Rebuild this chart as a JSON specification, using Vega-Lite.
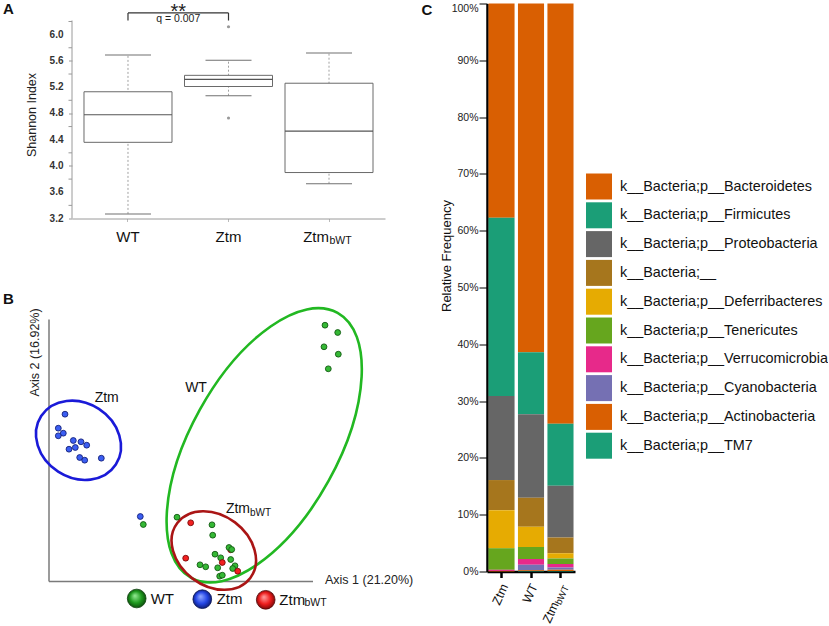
{
 "$schema": "https://vega.github.io/schema/vega-lite/v6.json",
 "background": "white",
 "padding": {"left": 3, "top": 1.5, "right": 0, "bottom": 0},
 "config": {"font": "Liberation Sans", "view": {"stroke": null}, "axis": {"grid": false}},
 "datasets": {
  "one": [{}],
  "yTicks": [{"v": 3.2}, {"v": 3.6}, {"v": 4.0}, {"v": 4.4}, {"v": 4.8}, {"v": 5.2}, {"v": 5.6}, {"v": 6.0}],
  "minorTicks": [{"v": 3.4}, {"v": 3.8}, {"v": 4.2}, {"v": 4.6}, {"v": 5.0}, {"v": 5.4}, {"v": 5.8}, {"v": 6.2}],
  "box": [
   {"group": "WT", "lower": 3.27, "q1": 4.36, "median": 4.78, "q3": 5.13, "upper": 5.69},
   {"group": "Ztm", "lower": 5.07, "q1": 5.21, "median": 5.32, "q3": 5.38, "upper": 5.61},
   {"group": "ZtmbWT", "lower": 3.73, "q1": 3.90, "median": 4.53, "q3": 5.26, "upper": 5.72}
  ],
  "outliers": [
   {"group": "Ztm", "value": 6.12},
   {"group": "Ztm", "value": 4.73}
  ],
  "pcoa": [
   {"group": "Ztm", "x": 16, "y": 167.3},
   {"group": "Ztm", "x": 9.3, "y": 153.3},
   {"group": "Ztm", "x": 14.3, "y": 148.3},
   {"group": "Ztm", "x": 9.3, "y": 145.7},
   {"group": "Ztm", "x": 24.3, "y": 141},
   {"group": "Ztm", "x": 32, "y": 139.7},
   {"group": "Ztm", "x": 37.7, "y": 136.3},
   {"group": "Ztm", "x": 26.3, "y": 134},
   {"group": "Ztm", "x": 20, "y": 132.3},
   {"group": "Ztm", "x": 30.7, "y": 124},
   {"group": "Ztm", "x": 35.7, "y": 121.3},
   {"group": "Ztm", "x": 52.3, "y": 123.3},
   {"group": "Ztm", "x": 91.3, "y": 65},
   {"group": "ZtmbWT", "x": 181.7, "y": 31.7},
   {"group": "WT", "x": 276, "y": 256.3},
   {"group": "WT", "x": 288.7, "y": 249},
   {"group": "WT", "x": 275, "y": 234.7},
   {"group": "WT", "x": 289.3, "y": 227.3},
   {"group": "WT", "x": 279.3, "y": 212.7},
   {"group": "WT", "x": 128, "y": 64.3},
   {"group": "WT", "x": 94.3, "y": 57},
   {"group": "WT", "x": 163, "y": 56.7},
   {"group": "WT", "x": 163.7, "y": 46.3},
   {"group": "WT", "x": 180, "y": 34},
   {"group": "WT", "x": 182.7, "y": 32},
   {"group": "WT", "x": 166, "y": 27.3},
   {"group": "WT", "x": 171.7, "y": 23.7},
   {"group": "WT", "x": 181.7, "y": 22},
   {"group": "WT", "x": 151, "y": 16.7},
   {"group": "WT", "x": 156.7, "y": 14.7},
   {"group": "WT", "x": 168.7, "y": 13.7},
   {"group": "WT", "x": 186, "y": 15.7},
   {"group": "WT", "x": 183.7, "y": 13},
   {"group": "WT", "x": 170.7, "y": 5.3},
   {"group": "WT", "x": 173.3, "y": 6.3},
   {"group": "ZtmbWT", "x": 141.7, "y": 58.7},
   {"group": "ZtmbWT", "x": 136.7, "y": 23.3},
   {"group": "ZtmbWT", "x": 173.3, "y": 19},
   {"group": "ZtmbWT", "x": 188.7, "y": 10.3}
  ],
  "taxa": [
   {"sample": "Ztm", "ord": 1, "taxon": "k__Bacteria;p__Bacteroidetes", "freq": 0.377},
   {"sample": "Ztm", "ord": 2, "taxon": "k__Bacteria;p__Firmicutes", "freq": 0.314},
   {"sample": "Ztm", "ord": 3, "taxon": "k__Bacteria;p__Proteobacteria", "freq": 0.148},
   {"sample": "Ztm", "ord": 4, "taxon": "k__Bacteria;__", "freq": 0.053},
   {"sample": "Ztm", "ord": 5, "taxon": "k__Bacteria;p__Deferribacteres", "freq": 0.067},
   {"sample": "Ztm", "ord": 6, "taxon": "k__Bacteria;p__Tenericutes", "freq": 0.038},
   {"sample": "Ztm", "ord": 7, "taxon": "k__Bacteria;p__Verrucomicrobia", "freq": 0.002},
   {"sample": "Ztm", "ord": 8, "taxon": "k__Bacteria;p__Cyanobacteria", "freq": 0.0},
   {"sample": "Ztm", "ord": 9, "taxon": "k__Bacteria;p__Actinobacteria", "freq": 0.001},
   {"sample": "Ztm", "ord": 10, "taxon": "k__Bacteria;p__TM7", "freq": 0.0},
   {"sample": "WT", "ord": 1, "taxon": "k__Bacteria;p__Bacteroidetes", "freq": 0.614},
   {"sample": "WT", "ord": 2, "taxon": "k__Bacteria;p__Firmicutes", "freq": 0.109},
   {"sample": "WT", "ord": 3, "taxon": "k__Bacteria;p__Proteobacteria", "freq": 0.147},
   {"sample": "WT", "ord": 4, "taxon": "k__Bacteria;__", "freq": 0.051},
   {"sample": "WT", "ord": 5, "taxon": "k__Bacteria;p__Deferribacteres", "freq": 0.036},
   {"sample": "WT", "ord": 6, "taxon": "k__Bacteria;p__Tenericutes", "freq": 0.021},
   {"sample": "WT", "ord": 7, "taxon": "k__Bacteria;p__Verrucomicrobia", "freq": 0.010},
   {"sample": "WT", "ord": 8, "taxon": "k__Bacteria;p__Cyanobacteria", "freq": 0.010},
   {"sample": "WT", "ord": 9, "taxon": "k__Bacteria;p__Actinobacteria", "freq": 0.001},
   {"sample": "WT", "ord": 10, "taxon": "k__Bacteria;p__TM7", "freq": 0.001},
   {"sample": "ZtmbWT", "ord": 1, "taxon": "k__Bacteria;p__Bacteroidetes", "freq": 0.740},
   {"sample": "ZtmbWT", "ord": 2, "taxon": "k__Bacteria;p__Firmicutes", "freq": 0.109},
   {"sample": "ZtmbWT", "ord": 3, "taxon": "k__Bacteria;p__Proteobacteria", "freq": 0.091},
   {"sample": "ZtmbWT", "ord": 4, "taxon": "k__Bacteria;__", "freq": 0.028},
   {"sample": "ZtmbWT", "ord": 5, "taxon": "k__Bacteria;p__Deferribacteres", "freq": 0.009},
   {"sample": "ZtmbWT", "ord": 6, "taxon": "k__Bacteria;p__Tenericutes", "freq": 0.010},
   {"sample": "ZtmbWT", "ord": 7, "taxon": "k__Bacteria;p__Verrucomicrobia", "freq": 0.006},
   {"sample": "ZtmbWT", "ord": 8, "taxon": "k__Bacteria;p__Cyanobacteria", "freq": 0.004},
   {"sample": "ZtmbWT", "ord": 9, "taxon": "k__Bacteria;p__Actinobacteria", "freq": 0.002},
   {"sample": "ZtmbWT", "ord": 10, "taxon": "k__Bacteria;p__TM7", "freq": 0.001}
  ]
 },
 "align": "none",
 "bounds": "full",
 "spacing": 7,
 "hconcat": [
  {
   "align": "none",
   "bounds": "full",
   "spacing": 43,
   "vconcat": [
    {
     "width": 313,
     "height": 215,
     "resolve": {"scale": {"x": "independent"}},
     "layer": [
      {
       "layer": [
        {
         "data": {"name": "box"},
         "mark": {"type": "rule", "color": "#a0a0a0", "strokeDash": [2, 2], "strokeWidth": 1},
         "encoding": {
          "x": {"field": "group", "type": "nominal", "sort": ["WT", "Ztm", "ZtmbWT"], "scale": {"domain": ["WT", "Ztm", "ZtmbWT"], "paddingInner": 0, "paddingOuter": 0.057},
                "axis": {"title": null, "labels": false, "domainColor": "#9a9a9a", "tickColor": "#bbbbbb", "tickSize": 3}},
          "y": {"field": "lower", "type": "quantitative", "scale": {"domain": [3.2, 6.474], "nice": false, "zero": false},
                "axis": {"title": "Shannon Index", "values": [3.2, 3.6, 4.0, 4.4, 4.8, 5.2, 5.6, 6.0], "labels": false,
                         "domain": false, "tickColor": "#999999", "tickSize": 3.5,
                         "titleFontSize": 12.5, "titleFontWeight": "normal",
                         "titleColor": "#222222", "titleX": -34, "titleY": 111}},
          "y2": {"field": "upper"}
         }
        },
        {
         "data": {"name": "box"},
         "mark": {"type": "bar", "size": 88, "fill": "white", "stroke": "#6a6a6a", "strokeWidth": 1},
         "encoding": {
          "x": {"field": "group", "type": "nominal", "sort": ["WT", "Ztm", "ZtmbWT"]},
          "y": {"field": "q1", "type": "quantitative"},
          "y2": {"field": "q3"}
         }
        },
        {
         "data": {"name": "box"},
         "mark": {"type": "tick", "size": 88, "thickness": 1.2, "color": "#555555", "opacity": 1},
         "encoding": {
          "x": {"field": "group", "type": "nominal", "sort": ["WT", "Ztm", "ZtmbWT"]},
          "y": {"field": "median", "type": "quantitative"}
         }
        },
        {
         "data": {"name": "box"},
         "mark": {"type": "tick", "size": 46, "thickness": 1, "color": "#707070", "opacity": 1},
         "encoding": {
          "x": {"field": "group", "type": "nominal", "sort": ["WT", "Ztm", "ZtmbWT"]},
          "y": {"field": "lower", "type": "quantitative"}
         }
        },
        {
         "data": {"name": "box"},
         "mark": {"type": "tick", "size": 46, "thickness": 1, "color": "#707070", "opacity": 1},
         "encoding": {
          "x": {"field": "group", "type": "nominal", "sort": ["WT", "Ztm", "ZtmbWT"]},
          "y": {"field": "upper", "type": "quantitative"}
         }
        },
        {
         "data": {"name": "outliers"},
         "mark": {"type": "point", "filled": true, "size": 10, "color": "#999999", "opacity": 1},
         "encoding": {
          "x": {"field": "group", "type": "nominal", "sort": ["WT", "Ztm", "ZtmbWT"]},
          "y": {"field": "value", "type": "quantitative"}
         }
        },
        {
         "data": {"name": "box"},
         "transform": [{"filter": "datum.group != 'ZtmbWT'"}],
         "mark": {"type": "text", "fontSize": 15, "color": "#111111", "baseline": "middle"},
         "encoding": {
          "x": {"field": "group", "type": "nominal", "sort": ["WT", "Ztm", "ZtmbWT"]},
          "y": {"datum": 2.911, "type": "quantitative"},
          "text": {"field": "group"}
         }
        },
        {
         "data": {"name": "box"},
         "transform": [{"filter": "datum.group == 'ZtmbWT'"}],
         "mark": {"type": "text", "fontSize": 15, "color": "#111111", "baseline": "middle", "align": "right", "dx": 0},
         "encoding": {
          "x": {"field": "group", "type": "nominal", "sort": ["WT", "Ztm", "ZtmbWT"]},
          "y": {"datum": 2.911, "type": "quantitative"},
          "text": {"value": "Ztm"}
         }
        },
        {
         "data": {"name": "box"},
         "transform": [{"filter": "datum.group == 'ZtmbWT'"}],
         "mark": {"type": "text", "fontSize": 10.5, "color": "#111111", "baseline": "middle", "align": "left", "dx": 0.5},
         "encoding": {
          "x": {"field": "group", "type": "nominal", "sort": ["WT", "Ztm", "ZtmbWT"]},
          "y": {"datum": 2.85, "type": "quantitative"},
          "text": {"value": "bWT"}
         }
        },
        {
         "data": {"name": "one"},
         "mark": {"type": "rule", "color": "#333333", "strokeWidth": 1.2},
         "encoding": {
          "x": {"datum": "WT", "type": "nominal"},
          "x2": {"datum": "Ztm"},
          "y": {"datum": 6.33, "type": "quantitative"}
         }
        },
        {
         "data": {"name": "one"},
         "mark": {"type": "rule", "color": "#333333", "strokeWidth": 1.2},
         "encoding": {
          "x": {"datum": "WT", "type": "nominal"},
          "y": {"datum": 6.215, "type": "quantitative"},
          "y2": {"datum": 6.33}
         }
        },
        {
         "data": {"name": "one"},
         "mark": {"type": "rule", "color": "#333333", "strokeWidth": 1.2},
         "encoding": {
          "x": {"datum": "Ztm", "type": "nominal"},
          "y": {"datum": 6.215, "type": "quantitative"},
          "y2": {"datum": 6.33}
         }
        },
        {
         "data": {"name": "one"},
         "mark": {"type": "text", "fontSize": 20, "color": "#222222", "baseline": "top", "text": "**"},
         "encoding": {
          "x": {"datum": "WT", "type": "nominal", "bandPosition": 1},
          "y": {"datum": 6.497, "type": "quantitative"}
         }
        },
        {
         "data": {"name": "one"},
         "mark": {"type": "text", "fontSize": 10.5, "color": "#222222", "baseline": "middle", "text": "q = 0.007"},
         "encoding": {
          "x": {"datum": "WT", "type": "nominal", "bandPosition": 1},
          "y": {"datum": 6.235, "type": "quantitative"}
         }
        }
       ]
      },
      {
       "layer": [
        {
         "data": {"name": "one"},
         "mark": {"type": "rule", "color": "#9a9a9a", "strokeWidth": 1},
         "encoding": {
          "x": {"datum": 0, "type": "quantitative", "scale": {"domain": [0, 1]}, "axis": null},
          "y": {"datum": 3.2, "type": "quantitative"},
          "y2": {"datum": 6.215}
         }
        },
        {
         "data": {"name": "minorTicks"},
         "mark": {"type": "rule", "color": "#999999", "strokeWidth": 1},
         "encoding": {
          "x": {"datum": -0.0112, "type": "quantitative", "scale": {"domain": [0, 1]}, "axis": null},
          "x2": {"datum": 0},
          "y": {"field": "v", "type": "quantitative"}
         }
        },
        {
         "data": {"name": "yTicks"},
         "mark": {"type": "text", "fontSize": 10, "fontWeight": "bold", "color": "#333333", "align": "right", "baseline": "middle"},
         "encoding": {
          "x": {"datum": -0.0272, "type": "quantitative", "scale": {"domain": [0, 1]}, "axis": null},
          "y": {"field": "v", "type": "quantitative"},
          "text": {"field": "v", "type": "quantitative", "format": ".1f"}
         }
        },
        {
         "data": {"name": "one"},
         "mark": {"type": "text", "fontSize": 15, "fontWeight": "bold", "color": "#111111", "align": "left", "baseline": "middle", "text": "A"},
         "encoding": {
          "x": {"datum": -0.2204, "type": "quantitative", "scale": {"domain": [0, 1]}, "axis": null},
          "y": {"datum": 6.383, "type": "quantitative"}
         }
        }
       ]
      }
     ]
    },
    {
     "width": 293,
     "height": 309,
     "encoding": {
      "x": {"type": "quantitative", "scale": {"domain": [23, 316], "nice": false, "zero": false}, "axis": null},
      "y": {"type": "quantitative", "scale": {"domain": [-30, 279], "nice": false, "zero": false}, "axis": null}
     },
     "layer": [
      {
       "data": {"name": "one"},
       "mark": {"type": "rule", "color": "#7a7a7a", "strokeWidth": 1.5},
       "encoding": {"x": {"datum": 0}, "x2": {"datum": 264}, "y": {"datum": 0}}
      },
      {
       "data": {"name": "one"},
       "mark": {"type": "rule", "color": "#7a7a7a", "strokeWidth": 1.5},
       "encoding": {"x": {"datum": 0}, "y": {"datum": 0}, "y2": {"datum": 262}}
      },
      {
       "data": {"values": [{"group": "Ztm", "cx": 29.5, "cy": 141.2}]},
       "mark": {"type": "point", "shape": "M -1 0 A 1 0.84 0 1 1 1 0 A 1 0.84 0 1 1 -1 0 Z", "size": 7921, "angle": 33, "filled": false, "stroke": "#1a1ad8", "strokeWidth": 2.6, "opacity": 1},
       "encoding": {"x": {"field": "cx"}, "y": {"field": "cy"}}
      },
      {
       "data": {"values": [{"group": "WT", "cx": 215.2, "cy": 136.2}]},
       "mark": {"type": "point", "shape": "M -1 0 A 1 0.486 0 1 1 1 0 A 1 0.486 0 1 1 -1 0 Z", "size": 91688, "angle": -61, "filled": false, "stroke": "#22b822", "strokeWidth": 2.6, "opacity": 1},
       "encoding": {"x": {"field": "cx"}, "y": {"field": "cy"}}
      },
      {
       "data": {"values": [{"group": "ZtmbWT", "cx": 164.8, "cy": 31}]},
       "mark": {"type": "point", "shape": "M -1 0 A 1 0.77 0 1 1 1 0 A 1 0.77 0 1 1 -1 0 Z", "size": 8354, "angle": 37, "filled": false, "stroke": "#aa1515", "strokeWidth": 2.6, "opacity": 1},
       "encoding": {"x": {"field": "cx"}, "y": {"field": "cy"}}
      },
      {
       "data": {"name": "pcoa"},
       "mark": {"type": "point", "filled": true, "size": 34, "strokeWidth": 0.9, "opacity": 1},
       "encoding": {
        "x": {"field": "x"},
        "y": {"field": "y"},
        "fill": {"field": "group", "type": "nominal", "scale": {"domain": ["WT", "Ztm", "ZtmbWT"], "range": ["#35b835", "#3b5ef2", "#f22020"]}, "legend": null},
        "stroke": {"field": "group", "type": "nominal", "scale": {"domain": ["WT", "Ztm", "ZtmbWT"], "range": ["#145a14", "#16237a", "#7a0a0a"]}, "legend": null}
       }
      },
      {
       "data": {"name": "one"},
       "mark": {"type": "text", "fontSize": 14, "color": "#111111", "text": "Ztm"},
       "encoding": {"x": {"datum": 57.7}, "y": {"datum": 184}}
      },
      {
       "data": {"name": "one"},
       "mark": {"type": "text", "fontSize": 14, "color": "#111111", "text": "WT"},
       "encoding": {"x": {"datum": 147}, "y": {"datum": 193.7}}
      },
      {
       "data": {"name": "one"},
       "mark": {"type": "text", "fontSize": 14, "color": "#111111", "align": "right", "text": "Ztm"},
       "encoding": {"x": {"datum": 201}, "y": {"datum": 73}}
      },
      {
       "data": {"name": "one"},
       "mark": {"type": "text", "fontSize": 10, "color": "#111111", "align": "left", "text": "bWT"},
       "encoding": {"x": {"datum": 201}, "y": {"datum": 68.3}}
      },
      {
       "data": {"name": "one"},
       "mark": {"type": "text", "fontSize": 15, "fontWeight": "bold", "color": "#111111", "align": "left", "text": "B"},
       "encoding": {"x": {"datum": -46}, "y": {"datum": 283}}
      },
      {
       "data": {"name": "one"},
       "mark": {"type": "text", "fontSize": 12.5, "color": "#222222", "angle": 270, "text": "Axis 2 (16.92%)"},
       "encoding": {"x": {"datum": -14}, "y": {"datum": 229}}
      },
      {
       "data": {"name": "one"},
       "mark": {"type": "text", "fontSize": 12.5, "color": "#222222", "align": "left", "text": "Axis 1 (21.20%)"},
       "encoding": {"x": {"datum": 276}, "y": {"datum": 2}}
      },
      {
       "data": {"name": "one"},
       "mark": {"type": "point", "shape": "circle", "filled": true, "size": 350, "opacity": 1, "stroke": "#0b3d0b", "strokeWidth": 0.8,
                "fill": {"gradient": "radial", "x1": 0.4, "y1": 0.35, "r1": 0.02, "x2": 0.5, "y2": 0.5, "r2": 0.55,
                         "stops": [{"offset": 0, "color": "#8fe88f"}, {"offset": 0.55, "color": "#1f9a1f"}, {"offset": 1, "color": "#0a420a"}]}},
       "encoding": {"x": {"datum": 87.7}, "y": {"datum": -17}}
      },
      {
       "data": {"name": "one"},
       "mark": {"type": "point", "shape": "circle", "filled": true, "size": 350, "opacity": 1, "stroke": "#0a1450", "strokeWidth": 0.8,
                "fill": {"gradient": "radial", "x1": 0.4, "y1": 0.35, "r1": 0.02, "x2": 0.5, "y2": 0.5, "r2": 0.55,
                         "stops": [{"offset": 0, "color": "#8fa6ff"}, {"offset": 0.55, "color": "#2446e6"}, {"offset": 1, "color": "#0a1660"}]}},
       "encoding": {"x": {"datum": 153.3}, "y": {"datum": -17.7}}
      },
      {
       "data": {"name": "one"},
       "mark": {"type": "point", "shape": "circle", "filled": true, "size": 350, "opacity": 1, "stroke": "#500a0a", "strokeWidth": 0.8,
                "fill": {"gradient": "radial", "x1": 0.4, "y1": 0.35, "r1": 0.02, "x2": 0.5, "y2": 0.5, "r2": 0.55,
                         "stops": [{"offset": 0, "color": "#ff9a9a"}, {"offset": 0.55, "color": "#ee1c1c"}, {"offset": 1, "color": "#6a0606"}]}},
       "encoding": {"x": {"datum": 216.7}, "y": {"datum": -18.3}}
      },
      {
       "data": {"name": "one"},
       "mark": {"type": "text", "fontSize": 15, "color": "#111111", "align": "left", "text": "WT"},
       "encoding": {"x": {"datum": 101.7}, "y": {"datum": -17.5}}
      },
      {
       "data": {"name": "one"},
       "mark": {"type": "text", "fontSize": 15, "color": "#111111", "align": "left", "text": "Ztm"},
       "encoding": {"x": {"datum": 167.7}, "y": {"datum": -17.7}}
      },
      {
       "data": {"name": "one"},
       "mark": {"type": "text", "fontSize": 15, "color": "#111111", "align": "left", "text": "Ztm"},
       "encoding": {"x": {"datum": 230.3}, "y": {"datum": -18}}
      },
      {
       "data": {"name": "one"},
       "mark": {"type": "text", "fontSize": 10.5, "color": "#111111", "align": "left", "text": "bWT"},
       "encoding": {"x": {"datum": 255.5}, "y": {"datum": -21.5}}
      }
     ]
    }
   ]
  },
  {
   "width": 88,
   "height": 568,
   "layer": [
    {
     "data": {"name": "taxa"},
     "mark": {"type": "bar"},
     "encoding": {
      "x": {"field": "sample", "type": "nominal", "sort": ["Ztm", "WT", "ZtmbWT"], "scale": {"domain": ["Ztm", "WT", "ZtmbWT"], "paddingInner": 0.115, "paddingOuter": 0.05},
            "axis": {"title": null, "labels": false, "domainColor": "#000000", "domainWidth": 2.5, "tickColor": "#000000", "tickWidth": 2.5, "tickSize": 6}},
      "y": {"field": "freq", "type": "quantitative", "stack": "zero", "scale": {"domain": [0, 1], "nice": false},
            "axis": {"values": [0, 0.1, 0.2, 0.3, 0.4, 0.5, 0.6, 0.7, 0.8, 0.9, 1], "format": ".0%", "title": "Relative Frequency",
                     "domainColor": "#000000", "domainWidth": 2.5, "tickColor": "#000000", "tickWidth": 1, "tickSize": 8,
                     "labelFontSize": 10.5, "labelColor": "#222222", "labelPadding": 1,
                     "labelBaseline": {"condition": {"test": "datum.value == 1", "value": "top"}, "value": "middle"},
                     "titleFontSize": 13, "titleFontWeight": "normal", "titleColor": "#111111", "titleX": -34, "titleY": 252}},
      "color": {"field": "taxon", "type": "nominal",
                "scale": {"domain": ["k__Bacteria;p__Bacteroidetes", "k__Bacteria;p__Firmicutes", "k__Bacteria;p__Proteobacteria", "k__Bacteria;__", "k__Bacteria;p__Deferribacteres", "k__Bacteria;p__Tenericutes", "k__Bacteria;p__Verrucomicrobia", "k__Bacteria;p__Cyanobacteria", "k__Bacteria;p__Actinobacteria", "k__Bacteria;p__TM7"],
                          "range": ["#d95f02", "#1b9e77", "#666666", "#a6761d", "#e6ab02", "#66a61e", "#e7298a", "#7570b3", "#d95f02", "#1b9e77"]},
                "legend": {"title": null, "orient": "none", "legendX": 514, "legendY": 170, "symbolType": "square", "symbolSize": 676,
                           "symbolStrokeWidth": 0, "symbolOpacity": 1, "labelFontSize": 14.4, "labelColor": "#111111", "labelOffset": 8,
                           "rowPadding": 2.8, "padding": 0, "labelLimit": 400}},
      "order": {"field": "ord", "sort": "descending"}
     }
    },
    {
     "data": {"values": [{"sample": "Ztm"}, {"sample": "WT"}]},
     "mark": {"type": "text", "angle": 295, "align": "right", "baseline": "middle", "fontSize": 12.5, "color": "#111111", "dx": 1.5, "dy": 3},
     "encoding": {
      "x": {"field": "sample", "type": "nominal", "sort": ["Ztm", "WT", "ZtmbWT"]},
      "y": {"datum": -0.0234, "type": "quantitative"},
      "text": {"field": "sample"}
     }
    },
    {
     "data": {"values": [{"sample": "ZtmbWT"}]},
     "mark": {"type": "text", "angle": 295, "align": "right", "baseline": "middle", "fontSize": 12.5, "color": "#111111", "dx": -18.5, "dy": 3, "text": "Ztm"},
     "encoding": {
      "x": {"field": "sample", "type": "nominal", "sort": ["Ztm", "WT", "ZtmbWT"]},
      "y": {"datum": -0.0234, "type": "quantitative"}
     }
    },
    {
     "data": {"values": [{"sample": "ZtmbWT"}]},
     "mark": {"type": "text", "angle": 295, "align": "right", "baseline": "middle", "fontSize": 9.5, "color": "#111111", "dx": 1.5, "dy": 6, "text": "bWT"},
     "encoding": {
      "x": {"field": "sample", "type": "nominal", "sort": ["Ztm", "WT", "ZtmbWT"]},
      "y": {"datum": -0.0234, "type": "quantitative"}
     }
    },
    {
     "data": {"name": "one"},
     "mark": {"type": "text", "fontSize": 15, "fontWeight": "bold", "color": "#111111", "align": "left", "baseline": "middle", "dx": -80, "text": "C"},
     "encoding": {
      "x": {"datum": "Ztm", "type": "nominal"},
      "y": {"datum": 0.9894, "type": "quantitative"}
     }
    }
   ]
  }
 ]
}
